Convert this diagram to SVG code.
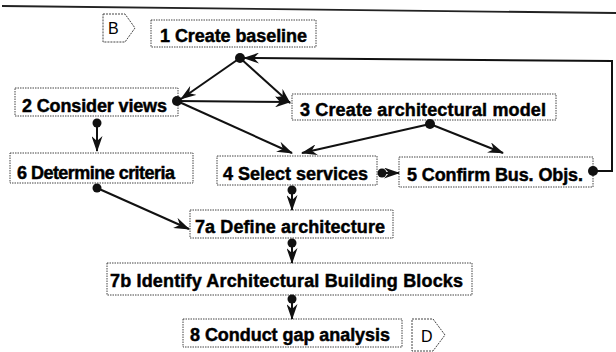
<svg xmlns="http://www.w3.org/2000/svg" width="616" height="352" viewBox="0 0 616 352">
<defs>
<style>
.box{fill:#fff;stroke:#444;stroke-width:1;stroke-dasharray:1.5,1}
.lbl{font-family:"Liberation Sans",Arial,sans-serif;font-weight:bold;font-size:18px;fill:#000;stroke:#000;stroke-width:0.45}
.ref{font-family:"Liberation Sans",Arial,sans-serif;font-size:16px;fill:#000}
.con{fill:none;stroke:#111;stroke-width:2}
.dot{fill:#111}
</style>
<marker id="arr" viewBox="0 0 16 11" refX="15" refY="5.5" markerWidth="16" markerHeight="11" orient="auto" markerUnits="userSpaceOnUse">
<path d="M0,0 L16,5.5 L0,11 L5,5.5 Z" fill="#111"/>
</marker>
</defs>
<rect width="616" height="352" fill="#fff"/>
<line x1="2" y1="6" x2="616" y2="13" stroke="#222" stroke-width="1.8"/>

<g id="refB">
<path d="M103,14 L125,14 L135,28 L125,42 L103,42 Z" fill="#fff" stroke="#444" stroke-width="1" stroke-dasharray="2,1"/>
<text class="ref" x="108" y="34">B</text>
</g>
<g id="refD">
<path d="M412,319 L433,319 L445,335 L433,351 L412,351 Z" fill="#fff" stroke="#444" stroke-width="1" stroke-dasharray="2,1"/>
<text class="ref" x="421" y="342">D</text>
</g>

<g id="n1"><rect class="box" x="151" y="20" width="165" height="27"/><text class="lbl" x="160" y="42" textLength="147">1 Create baseline</text></g>
<g id="n2"><rect class="box" x="15" y="88" width="163" height="28"/><text class="lbl" x="22" y="112" textLength="145">2 Consider views</text></g>
<g id="n3"><rect class="box" x="292" y="94" width="264" height="26"/><text class="lbl" x="300" y="116" textLength="246">3 Create architectural model</text></g>
<g id="n6"><rect class="box" x="10" y="153" width="183" height="30"/><text class="lbl" x="17" y="179" textLength="158">6 Determine criteria</text></g>
<g id="n4"><rect class="box" x="217" y="156" width="160" height="29"/><text class="lbl" x="223" y="180" textLength="145">4 Select services</text></g>
<g id="n5"><rect class="box" x="399" y="157" width="194" height="30"/><text class="lbl" x="407" y="181" textLength="176">5 Confirm Bus. Objs.</text></g>
<g id="n7a"><rect class="box" x="190" y="210" width="203" height="28"/><text class="lbl" x="195" y="233" textLength="190">7a Define architecture</text></g>
<g id="n7b"><rect class="box" x="107" y="263" width="365" height="32"/><text class="lbl" x="110" y="287" textLength="353">7b Identify Architectural Building Blocks</text></g>
<g id="n8"><rect class="box" x="183" y="319" width="219" height="28"/><text class="lbl" x="190" y="341" textLength="200">8 Conduct gap analysis</text></g>

<g id="connectors">
<line class="con" x1="240" y1="58" x2="181" y2="99" marker-end="url(#arr)"/>
<line class="con" x1="240" y1="58" x2="290" y2="103" marker-end="url(#arr)"/>
<line class="con" x1="177" y1="101" x2="290" y2="102" marker-end="url(#arr)"/>
<line class="con" x1="177" y1="101" x2="292" y2="153" marker-end="url(#arr)"/>
<line class="con" x1="430" y1="124" x2="302" y2="153" marker-end="url(#arr)"/>
<line class="con" x1="430" y1="124" x2="503" y2="153" marker-end="url(#arr)"/>
<line class="con" x1="97" y1="123" x2="97" y2="151" marker-end="url(#arr)"/>
<line class="con" x1="97" y1="188" x2="189" y2="229" marker-end="url(#arr)"/>
<line class="con" x1="292" y1="190" x2="292" y2="210" marker-end="url(#arr)"/>
<line class="con" x1="382" y1="173" x2="399" y2="173" marker-end="url(#arr)"/>
<path class="con" d="M593,171 L612,171 L612,61 L244,58" marker-end="url(#arr)"/>
<line class="con" x1="292" y1="243" x2="292" y2="263" marker-end="url(#arr)"/>
<line class="con" x1="292" y1="298" x2="292" y2="319" marker-end="url(#arr)"/>
<circle class="dot" cx="240" cy="58" r="5"/>
<circle class="dot" cx="177" cy="101" r="5"/>
<circle class="dot" cx="430" cy="124" r="5"/>
<circle class="dot" cx="97" cy="123" r="4.5"/>
<circle class="dot" cx="97" cy="188" r="4.5"/>
<circle class="dot" cx="292" cy="190" r="4.5"/>
<circle class="dot" cx="382" cy="173" r="4.5"/>
<circle class="dot" cx="593" cy="171" r="5"/>
<circle class="dot" cx="292" cy="243" r="4.5"/>
<circle class="dot" cx="292" cy="299" r="4.5"/>
</g>
</svg>
